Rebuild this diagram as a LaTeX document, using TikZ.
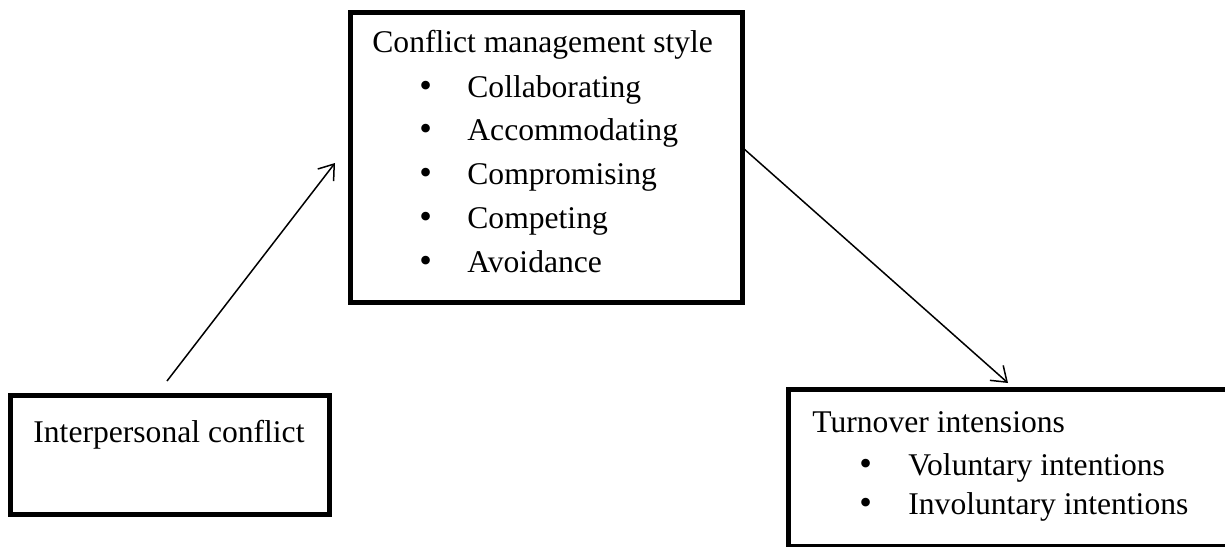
\documentclass[tikz,border=0pt]{standalone}
\usepackage{fontspec}
\setmainfont{Liberation Serif}
\usetikzlibrary{arrows.meta,calc}
\begin{document}
\begin{tikzpicture}[x=0.5pt,y=-0.5pt,
  box/.style={draw, line width=2.5pt, inner sep=0pt, outer sep=0pt},
  lbl/.style={anchor=base west, inner sep=0pt, font=\fontsize{15.8}{19}\selectfont},
  bul/.style={anchor=base west, inner sep=0pt, font=\fontsize{18}{19}\selectfont},
  conn/.style={line width=0.75pt, -{Straight Barb[length=7pt,width=10pt,line width=0.75pt]}}]
\useasboundingbox (0,0) rectangle (1225,546);
% boxes
\node[box, minimum width=196pt, minimum height=145pt] (cms) at (546,157) {};
\node[box, minimum width=159.5pt, minimum height=59.5pt] (ip) at (170,454.5) {};
\node[box, minimum width=226pt, minimum height=78.5pt] (to) at (1014,467.5) {};
% texts of the central box
\node[lbl] (t0) at (372,52) {Conflict management style};
\node[bul] (b1) at (419,97) {•};  \node[lbl] (t1) at (467,97) {Collaborating};
\node[bul] (b2) at (419,140) {•}; \node[lbl] (t2) at (467,140) {Accommodating};
\node[bul] (b3) at (419,184) {•}; \node[lbl] (t3) at (467,184) {Compromising};
\node[bul] (b4) at (419,228) {•}; \node[lbl] (t4) at (467,228) {Competing};
\node[bul] (b5) at (419,272) {•}; \node[lbl] (t5) at (467,272) {Avoidance};
% left box
\node[lbl] (ipt) at (33,442) {Interpersonal conflict};
% right box
\node[lbl] (tot) at (812,432) {Turnover intensions};
\node[bul] (tb1) at (859,475) {•}; \node[lbl] (tt1) at (908,475) {Voluntary intentions};
\node[bul] (tb2) at (859,514) {•}; \node[lbl] (tt2) at (908,514) {Involuntary intentions};
% connectors
\coordinate (a1s) at (167,381);
\coordinate (a1e) at (335,163);
\coordinate (a2s) at (743,148);
\coordinate (a2e) at (1008,383);
\draw[conn] (a1s) -- (a1e);
\draw[conn] (a2s) -- (a2e);
\end{tikzpicture}
\end{document}
